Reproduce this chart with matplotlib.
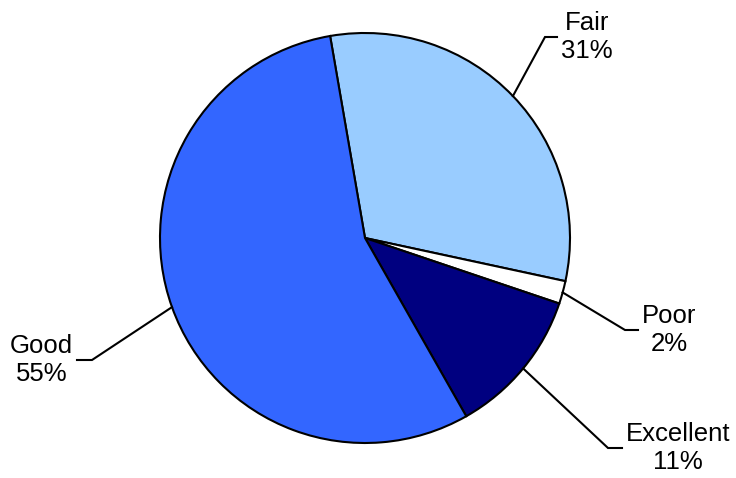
import numpy as np
import matplotlib.pyplot as plt

# data
categories = ["Fair", "Poor", "Excellent", "Good"]
shares = [31.1, 1.8, 11.6, 55.5]
pct_labels = ["31%", "2%", "11%", "55%"]
colors = ["#99CCFF", "#FFFFFF", "#000080", "#3366FF"]

# layout (pixels): pie centre, radius, leader-line elbows
W, H = 736, 478
cx, cy, R = 365, 238, 205
elbows = [(545, 37), (625, 330), (608, 448), (92, 360)]
tail = [12, 13, 14, -15]

plt.rcParams['font.family'] = ['Liberation Sans', 'DejaVu Sans']

fig = plt.figure(figsize=(W / 100, H / 100), dpi=100)
ax = fig.add_axes([0, 0, 1, 1])

wedges, _ = ax.pie(shares, colors=colors, startangle=99.8, counterclock=False,
                   wedgeprops=dict(edgecolor="black", linewidth=1.5))

ax.set_xlim(-cx / R, (W - cx) / R)
ax.set_ylim(-(H - cy) / R, cy / R)
ax.set_aspect('auto')
ax.axis('off')


def to_data(px, py):
    return (px - cx) / R, (cy - py) / R


for w, name, pct, (ex, ey), t in zip(wedges, categories, pct_labels, elbows, tail):
    mid = np.deg2rad((w.theta1 + w.theta2) / 2)
    x0, y0 = np.cos(mid), np.sin(mid)
    x1, y1 = to_data(ex, ey)
    x2, y2 = to_data(ex + t, ey)
    ax.plot([x0, x1, x2], [y0, y1, y2], color="black", lw=1.5,
            solid_joinstyle='miter')
    xt, yt = to_data(ex + t + (4 if t > 0 else -4), ey)
    ax.text(xt, yt, name + "\n" + pct, ha='left' if t > 0 else 'right',
            va='center', multialignment='center', fontsize=18.5,
            linespacing=1.2)

fig.savefig("out.png", dpi=100)
